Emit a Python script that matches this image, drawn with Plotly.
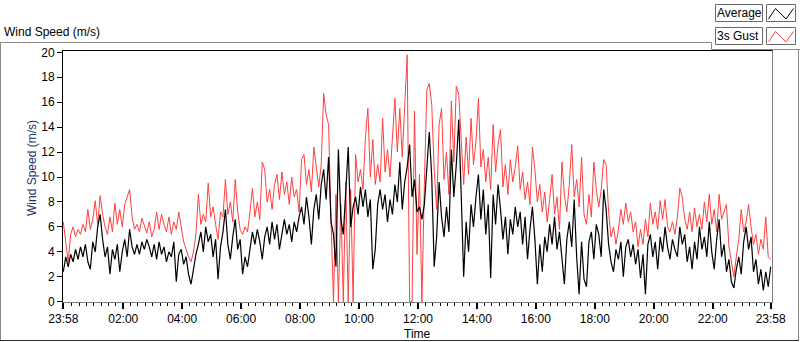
import plotly.graph_objects as go

# ---------------- data (one sample every 5 min from 23:58) ----------------
start_minute = -2          # 23:58 of the previous day
step_minutes = 5

gust_3s = [
    6.4,5.0,3.2,5.4,6.0,5.2,5.8,5.4,6.2,5.6,
    7.4,5.8,6.6,8.1,6.2,8.5,7.0,6.0,5.4,6.8,
    5.6,7.9,6.2,7.4,6.0,7.8,8.5,9.0,6.8,5.8,
    6.2,5.6,6.7,6.0,5.5,6.4,5.2,5.8,7.2,5.8,
    7.0,6.2,5.6,6.8,5.4,6.4,5.8,7.2,6.0,4.8,
    4.2,3.6,3.2,4.0,5.4,8.6,6.2,7.0,6.4,9.5,
    6.8,7.6,6.2,5.0,7.2,6.8,9.8,7.0,8.0,6.4,
    9.8,7.2,5.8,
    5.4,6.0,5.6,7.2,9.1,6.8,8.0,6.6,11.2,10.6,
    8.0,9.0,7.4,9.4,10.2,8.2,10.4,8.6,9.6,7.8,
    10.0,8.4,9.0,7.2,11.4,11.8,9.4,10.6,8.8,12.4,
    10.8,9.2,11.0,16.7,15.0,14.2,6.5,0.0,8.6,0.0,
    7.8,0.0,9.6,0.0,9.0,0.0,11.8,9.6,10.6,9.0,
    13.1,15.5,10.0,13.0,9.4,11.0,9.6,14.7,10.4,12.2,
    10.0,13.4,16.3,12.0,15.5,11.6,16.3,19.8,0.0,0.0,
    15.3,3.8,10.2,
    0.0,9.4,17.0,17.5,15.8,10.6,7.4,14.2,15.5,9.8,
    12.0,8.6,16.1,11.2,17.3,16.6,12.4,9.4,13.2,10.2,
    14.7,11.0,12.8,16.3,10.8,12.2,9.6,11.6,9.0,14.2,
    10.4,12.6,13.8,9.2,11.0,8.6,11.4,9.6,10.8,12.5,
    9.0,10.4,8.2,9.6,7.8,12.4,10.6,8.0,9.4,7.2,
    8.8,6.4,8.2,10.2,7.0,8.4,5.8,11.2,8.6,7.2,
    9.4,12.6,8.4,9.8,7.6,11.6,7.0,6.2,8.6,6.8,
    11.2,9.0,
    7.6,9.0,11.4,11.0,7.2,5.2,6.0,4.6,5.8,7.4,
    6.2,7.9,6.4,7.2,5.6,6.4,4.4,5.8,4.6,6.6,
    5.2,7.9,6.2,7.2,5.8,8.1,6.6,8.2,6.0,5.6,
    6.4,5.4,6.8,9.1,8.4,6.6,5.8,7.2,5.6,7.5,
    6.0,7.0,5.8,8.0,6.4,8.6,6.2,7.4,5.6,8.6,
    6.6,7.2,7.8,4.4,3.2,2.0,3.6,5.0,7.4,5.6,
    6.4,7.8,6.0,4.6,5.4,3.8,5.0,4.2,6.8,3.6,
    3.4,
]

average = [
    2.4,3.6,2.8,3.8,3.2,4.2,3.4,4.4,3.6,4.6,
    3.2,2.6,4.8,4.0,6.0,7.0,5.0,3.6,4.4,2.2,
    4.2,3.4,4.6,2.4,4.0,5.0,3.6,5.8,4.4,3.8,
    4.6,3.8,4.8,4.2,5.0,4.4,3.6,4.6,3.4,4.8,
    3.8,4.4,3.2,4.0,3.6,4.8,1.6,3.8,4.2,3.0,
    3.6,2.2,1.4,2.8,3.8,4.6,5.6,4.0,6.0,4.8,
    5.4,3.6,5.0,1.8,4.4,5.6,7.4,4.6,3.4,5.2,
    6.6,4.2,5.0,
    2.2,3.6,2.8,4.4,5.6,4.6,5.8,4.8,3.4,5.2,
    6.0,4.6,6.4,5.0,6.2,4.2,5.6,6.6,5.4,6.2,
    4.8,6.4,5.6,6.8,7.6,6.2,8.4,6.8,4.6,7.4,
    8.6,6.6,9.4,10.6,8.2,11.6,6.4,5.4,2.8,12.2,
    6.6,5.4,8.8,12.4,6.0,7.6,8.4,7.0,9.2,7.6,
    9.0,6.8,8.2,2.6,4.2,7.8,9.0,7.4,8.6,6.4,
    8.2,7.0,9.4,8.0,11.2,7.4,9.6,10.8,12.6,8.4,
    9.8,7.2,7.6,
    6.6,7.8,10.6,13.6,10.0,2.8,5.2,9.6,6.8,5.2,
    7.6,5.6,12.2,8.4,11.0,14.6,8.6,2.0,6.4,4.0,
    7.8,6.0,8.4,10.2,6.6,9.0,5.4,7.8,1.9,8.6,
    6.2,9.4,7.4,5.0,6.8,3.8,6.6,5.4,7.6,6.0,
    7.2,4.6,6.8,3.4,5.8,7.6,5.0,1.4,4.6,2.4,
    5.2,4.0,6.2,4.6,6.8,4.2,5.6,3.2,1.4,5.0,
    6.4,4.4,8.2,3.6,0.6,4.8,1.8,1.2,4.8,5.6,
    3.4,6.2,
    5.4,3.6,9.0,7.4,4.6,3.2,2.4,4.2,3.4,4.8,
    2.0,4.4,5.0,3.6,4.6,3.0,4.2,1.9,3.8,0.6,
    4.6,5.4,3.6,4.8,2.6,5.2,4.0,6.0,4.4,3.4,
    5.0,4.2,3.6,6.0,4.6,5.4,3.2,4.4,2.6,4.8,
    3.4,6.0,4.2,5.2,3.6,6.4,4.0,2.6,5.0,6.6,
    3.6,4.6,2.4,3.4,1.6,1.1,2.6,3.6,2.2,4.8,
    6.0,4.2,5.2,2.4,3.4,1.4,2.6,0.9,2.4,1.2,
    2.8,
]

times = [start_minute + step_minutes * i for i in range(len(average))]

x_tick_vals = [-2, 120, 240, 360, 480, 600, 720, 840, 960, 1080, 1200, 1320, 1438]
x_tick_text = ["23:58", "02:00", "04:00", "06:00", "08:00", "10:00", "12:00",
               "14:00", "16:00", "18:00", "20:00", "22:00", "23:58"]
y_tick_vals = [0, 2, 4, 6, 8, 10, 12, 14, 16, 18, 20]

series_names = ["Average", "3s Gust"]

# ---------------- layout geometry ----------------
W, H = 800, 342
L, R, T, B = 63, 772, 51, 302
FONT = "Liberation Sans"

def px(x):
    return (x - L) / (R - L)

def py(y):
    return (B - y) / (B - T)

fig = go.Figure()
fig.add_trace(go.Scatter(x=times, y=gust_3s, mode="lines", name=series_names[1],
                         line=dict(color="#ff4040", width=1), hoverinfo="skip"))
fig.add_trace(go.Scatter(x=times, y=average, mode="lines", name=series_names[0],
                         line=dict(color="#000000", width=1.2), hoverinfo="skip"))

# minute -> pixel: -2 at 63.3 px, 1438 at 770.7 px
ppm = (770.7 - 63.3) / 1440.0
x_lo = -2 - (63.3 - L) / ppm
x_hi = 1438 + (R - 770.7) / ppm
minor_vals = [m for m in range(15, 1438, 15) if m % 120 != 0]

fig.update_layout(
    width=W, height=H,
    margin=dict(l=L, r=W - R, t=T, b=H - B, pad=0),
    paper_bgcolor="white", plot_bgcolor="white",
    showlegend=False,
    font=dict(family=FONT, size=12, color="#000000"),
    xaxis=dict(
        range=[x_lo, x_hi], showgrid=False, zeroline=False, showline=False,
        tickmode="array", tickvals=x_tick_vals, ticktext=x_tick_text,
        ticks="outside", ticklen=6, tickwidth=2, tickcolor="#000000",
        tickfont=dict(family=FONT, size=12, color="#000000"),
        minor=dict(tickmode="array", tickvals=minor_vals, ticks="outside",
                   ticklen=3, tickwidth=1, tickcolor="#000000", showgrid=False),
    ),
    yaxis=dict(
        range=[(B - 302.3) / 12.5, (302.3 - T) / 12.5], showgrid=False, zeroline=False, showline=False,
        tickmode="array", tickvals=y_tick_vals,
        ticks="outside", ticklen=5, tickwidth=1, tickcolor="#000000",
        tickfont=dict(family=FONT, size=12, color="#000000"),
    ),
)

shapes = []
def line(x0, y0, x1, y1, color, width=1):
    shapes.append(dict(type="line", xref="paper", yref="paper",
                       x0=px(x0), y0=py(y0), x1=px(x1), y1=py(y1),
                       line=dict(color=color, width=width), layer="above"))

def rect(x0, y0, x1, y1, color):
    shapes.append(dict(type="rect", xref="paper", yref="paper",
                       x0=px(x0), y0=py(y0), x1=px(x1), y1=py(y1),
                       line=dict(color=color, width=1), fillcolor="white", layer="above"))

def zigzag(points, color):
    d = "M " + " L ".join(f"{px(a):.5f},{py(b):.5f}" for a, b in points)
    shapes.append(dict(type="path", xref="paper", yref="paper", path=d,
                       line=dict(color=color, width=1), layer="above"))

# plot frame
line(62, 50.5, 773, 50.5, "#000000")
line(62.5, 50.5, 62.5, 303, "#000000")
line(772.5, 50.5, 772.5, 303, "#808080")
line(62.5, 302.5, 773, 302.5, "#808080")
# outer panel frame
line(0, 42.5, 711.5, 42.5, "#8a8a8a")
line(711.5, 42.5, 711.5, 49.5, "#8a8a8a")
line(711.5, 49.5, 800, 49.5, "#8a8a8a")
line(798.5, 49.5, 798.5, 341, "#8a8a8a")
line(0.5, 42.5, 0.5, 341, "#8a8a8a")
line(0, 340.5, 799, 340.5, "#303030")
# legend boxes
rect(715.5, 4.5, 762.5, 21.5, "#6a6a6a")
rect(766.5, 4.5, 795.5, 21.5, "#6a6a6a")
rect(715.5, 27.5, 762.5, 44.5, "#6a6a6a")
rect(766.5, 27.5, 795.5, 44.5, "#6a6a6a")
zigzag([(768.5, 19), (775.5, 8.5), (786, 19), (793.5, 8.5)], "#000000")
zigzag([(768.5, 42), (775.5, 31.5), (786, 42), (793.5, 31.5)], "#ff4040")

fig.update_layout(shapes=shapes)

def text(x, y, s, xanchor="left", angle=0, color="#000000"):
    fig.add_annotation(xref="paper", yref="paper", x=px(x), y=py(y), text=s,
                       showarrow=False, xanchor=xanchor, yanchor="middle",
                       textangle=angle, borderpad=0,
                       font=dict(family=FONT, size=12, color=color))

text(3, 31.5, "Wind Speed (m/s)")
text(32, 168, "Wind Speed (m/s)", xanchor="center", angle=-90, color="#1c3468")
text(417, 334, "Time", xanchor="center")
text(716, 13, series_names[0])
text(716, 36, series_names[1])

fig.write_html("out.html", config={"displayModeBar": False},
               post_script="document.body.style.margin='0';document.body.style.overflow='hidden';")
